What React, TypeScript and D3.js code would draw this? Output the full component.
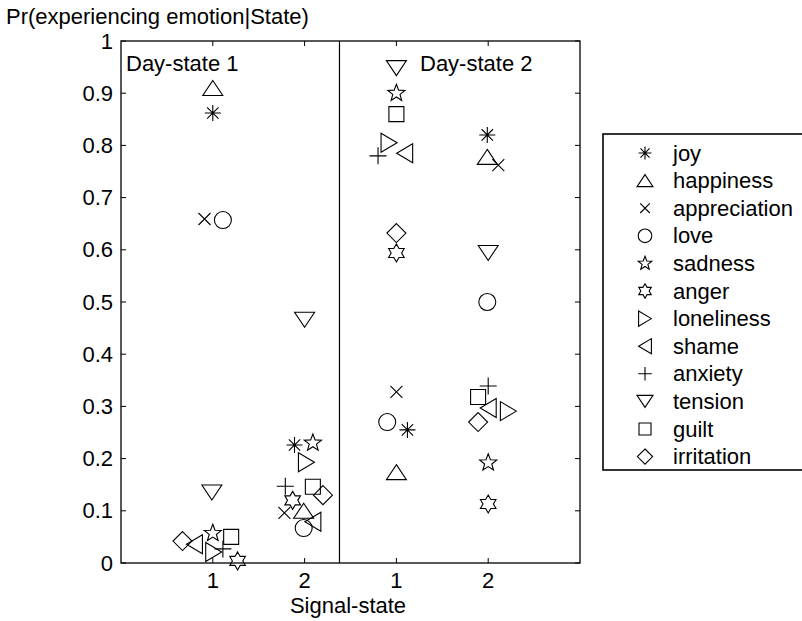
import React from "react";
import * as d3 from "d3";

const emotions = ["joy","happiness","appreciation","love","sadness","anger","loneliness","shame","anxiety","tension","guilt","irritation"];
const markerTypes = ["asterisk","triUp","cross","circle","star5","star6","triRight","triLeft","plus","triDown","square","diamond"];

// x positions (signal-state axis units, 1..4 = D1S1, D1S2, D2S1, D2S2)
const xD1S1 = [1.0, 1.0, 0.91, 1.11, 1.0, 1.27, 1.01, 0.80, 1.11, 0.99, 1.20, 0.67];
const yD1S1 = [0.862, 0.91, 0.659, 0.657, 0.057, 0.004, 0.021, 0.036, 0.027, 0.135, 0.05, 0.042];
const xD1S2 = [1.89, 1.99, 1.78, 1.99, 2.09, 1.87, 2.02, 2.09, 1.79, 2.0, 2.09, 2.2];
const yD1S2 = [0.226, 0.10, 0.096, 0.067, 0.23, 0.12, 0.193, 0.079, 0.147, 0.466, 0.146, 0.13];
const xD2S1 = [3.12, 3.0, 3.0, 2.90, 3.0, 3.0, 2.92, 3.09, 2.80, 3.0, 3.0, 3.0];
const yD2S1 = [0.255, 0.174, 0.328, 0.27, 0.90, 0.594, 0.805, 0.785, 0.78, 0.948, 0.86, 0.632];
const xD2S2 = [3.99, 3.99, 4.11, 3.99, 4.0, 4.0, 4.22, 4.0, 4.0, 4.0, 3.89, 3.89];
const yD2S2 = [0.82, 0.778, 0.762, 0.50, 0.192, 0.113, 0.291, 0.297, 0.339, 0.594, 0.318, 0.27];

const xTickVals = [1, 2, 3, 4];
const xTickLabels = ["1", "2", "1", "2"];
const yTickVals = d3.range(0, 11).map((i) => i / 10);
const dividerX = 2.38;

const W = 802, H = 621;
const FONT = "'Liberation Sans', Arial, Helvetica, sans-serif";
const FS = 22;

function starPath(n: number, ro: number, ri: number) {
  const pts: string[] = [];
  for (let i = 0; i < 2 * n; i++) {
    const r = i % 2 === 0 ? ro : ri;
    const a = -Math.PI / 2 + (i * Math.PI) / n;
    pts.push(`${(r * Math.cos(a)).toFixed(2)},${(r * Math.sin(a)).toFixed(2)}`);
  }
  return "M" + pts.join("L") + "Z";
}

function markerPath(type: string, s: number) {
  switch (type) {
    case "asterisk": {
      const a = 8 * s, d = 5.7 * s;
      return `M${-a},0L${a},0M0,${-a}L0,${a}M${-d},${-d}L${d},${d}M${-d},${d}L${d},${-d}`;
    }
    case "triUp":
      return `M0,${-7.5 * s}L${10 * s},${7.5 * s}L${-10 * s},${7.5 * s}Z`;
    case "triDown":
      return `M0,${7.5 * s}L${10 * s},${-7.5 * s}L${-10 * s},${-7.5 * s}Z`;
    case "triRight":
      return `M${8 * s},0L${-8 * s},${-9.5 * s}L${-8 * s},${9.5 * s}Z`;
    case "triLeft":
      return `M${-8 * s},0L${8 * s},${-9.5 * s}L${8 * s},${9.5 * s}Z`;
    case "cross": {
      const a = 6 * s;
      return `M${-a},${-a}L${a},${a}M${-a},${a}L${a},${-a}`;
    }
    case "plus": {
      const a = 8.5 * s;
      return `M${-a},0L${a},0M0,${-a}L0,${a}`;
    }
    case "circle": {
      const r = 8.5 * s;
      return `M${r},0A${r},${r} 0 1,1 ${-r},0A${r},${r} 0 1,1 ${r},0Z`;
    }
    case "square": {
      const a = 7.5 * s;
      return `M${-a},${-a}L${a},${-a}L${a},${a}L${-a},${a}Z`;
    }
    case "diamond": {
      const a = 9.5 * s;
      return `M0,${-a}L${a},0L0,${a}L${-a},0Z`;
    }
    case "star5":
      return starPath(5, 9 * s, 3.8 * s);
    case "star6":
      return starPath(6, 9 * s, 5.2 * s);
  }
  return "";
}

export default function App() {
  const x = d3.scaleLinear().domain([0, 5]).range([121, 580]);
  const y = d3.scaleLinear().domain([0, 1]).range([563, 41]);
  const groups = [
    { xs: xD1S1, ys: yD1S1 },
    { xs: xD1S2, ys: yD1S2 },
    { xs: xD2S1, ys: yD2S1 },
    { xs: xD2S2, ys: yD2S2 },
  ];
  const [x0, x1] = x.range();
  const [yb, yt] = y.range();
  const tk = 5;
  const legX = 645, legTextX = 673, legY0 = 153, legDy = 27.6;

  return (
    <svg width={W} height={H} style={{ position: "absolute", left: 0, top: 0, background: "#fff" }} fontFamily={FONT}>
      <rect x={0} y={0} width={W} height={H} fill="#fff" />
      <rect x={x0} y={yt} width={x1 - x0} height={yb - yt} fill="none" stroke="#000" strokeWidth={1.3} />
      {xTickVals.map((v, i) => (
        <g key={"xt" + i}>
          <line x1={x(v)} x2={x(v)} y1={yb} y2={yb - tk} stroke="#000" strokeWidth={1} />
          <line x1={x(v)} x2={x(v)} y1={yt} y2={yt + tk} stroke="#000" strokeWidth={1} />
          <text x={x(v)} y={588} textAnchor="middle" fontSize={FS}>{xTickLabels[i]}</text>
        </g>
      ))}
      {yTickVals.map((v, i) => (
        <g key={"yt" + i}>
          <line x1={x0} x2={x0 + tk} y1={y(v)} y2={y(v)} stroke="#000" strokeWidth={1} />
          <line x1={x1} x2={x1 - tk} y1={y(v)} y2={y(v)} stroke="#000" strokeWidth={1} />
          <text x={113} y={y(v) + 7.5} textAnchor="end" fontSize={FS}>{d3.format("")(Math.round(v * 10) / 10)}</text>
        </g>
      ))}
      <line x1={x(dividerX)} x2={x(dividerX)} y1={yt} y2={yb} stroke="#000" strokeWidth={1.2} />
      <text x={126} y={71} fontSize={FS}>Day-state 1</text>
      <text x={420} y={71} fontSize={FS}>Day-state 2</text>
      <text x={6} y={24} fontSize={FS}>Pr(experiencing emotion|State)</text>
      <text x={348} y={613} textAnchor="middle" fontSize={FS}>Signal-state</text>
      {groups.map((g, gi) =>
        emotions.map((e, i) => (
          <path key={gi + "-" + e} transform={`translate(${x(g.xs[i])},${y(g.ys[i])})`} d={markerPath(markerTypes[i], 1)} fill="none" stroke="#000" strokeWidth={1.1} strokeLinejoin="miter" />
        ))
      )}
      <rect x={603} y={134} width={240} height={336} fill="#fff" stroke="#000" strokeWidth={1.6} />
      {emotions.map((e, i) => (
        <g key={"lg" + e}>
          <path transform={`translate(${legX},${legY0 + i * legDy})`} d={markerPath(markerTypes[i], 0.8)} fill="none" stroke="#000" strokeWidth={1.1} />
          <text x={legTextX} y={legY0 + i * legDy + 7.5} fontSize={FS}>{e}</text>
        </g>
      ))}
    </svg>
  );
}
